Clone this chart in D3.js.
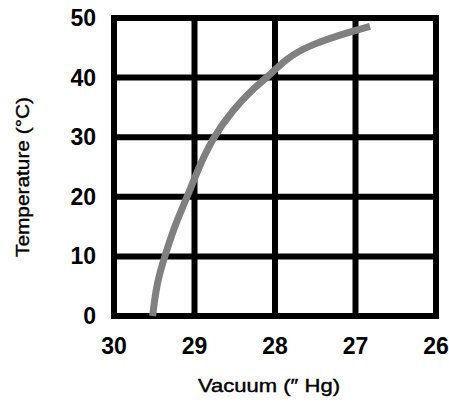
<!DOCTYPE html>
<html>
<head>
<meta charset="utf-8">
<script src="https://cdn.jsdelivr.net/npm/d3@7"></script>
<style>
  body { margin: 0; background: #fff; }
  text { font-family: "Liberation Sans", Arial, sans-serif; }
</style>
</head>
<body>
<script>
var width = 449, height = 403;

// vacuum in inches of mercury, temperature in deg C
var vacuum = [29.52, 29.47, 29.37, 29.24, 29.09, 28.96, 28.77, 28.52, 28.29, 28.1, 27.85, 27.57, 27.01, 26.82];
var temp   = [0, 5.5, 10, 15.4, 20, 24.5, 30, 34.6, 37.9, 40, 43.3, 45.5, 47.9, 48.6];
var xTicks = [30, 29, 28, 27, 26];
var yTicks = [0, 10, 20, 30, 40, 50];

var svg = d3.select("body").append("svg")
    .attr("width", width)
    .attr("height", height);

var x = d3.scaleLinear().domain([30, 26]).range([114, 436]);
var y = d3.scaleLinear().domain([0, 50]).range([316, 18]);

var g = svg.append("g");

// grid
g.selectAll("line.v").data(xTicks).enter().append("line")
    .attr("x1", d => x(d)).attr("x2", d => x(d))
    .attr("y1", y(0) + 3).attr("y2", y(50) - 3)
    .attr("stroke", "#000").attr("stroke-width", 6);

g.selectAll("line.h").data(yTicks).enter().append("line")
    .attr("y1", d => y(d)).attr("y2", d => y(d))
    .attr("x1", x(30) - 3).attr("x2", x(26) + 3)
    .attr("stroke", "#000").attr("stroke-width", 6);

// curve
var pts = vacuum.map((v, i) => [v, temp[i]]);
var line = d3.line()
    .x(d => x(d[0]))
    .y(d => y(d[1]))
    .curve(d3.curveBasis);

g.append("path")
    .datum(pts)
    .attr("d", line)
    .attr("fill", "none")
    .attr("stroke", "#808080")
    .attr("stroke-width", 7);

// tick labels
svg.selectAll("text.xt").data(xTicks).enter().append("text")
    .attr("x", d => x(d)).attr("y", 354)
    .attr("text-anchor", "middle")
    .style("font-size", "23px").style("font-weight", "bold")
    .text(d => d);

svg.selectAll("text.yt").data(yTicks).enter().append("text")
    .attr("x", 96).attr("y", d => y(d) + 8)
    .attr("text-anchor", "end")
    .style("font-size", "23px").style("font-weight", "bold")
    .text(d => d);

// axis titles
svg.append("text")
    .attr("x", 269).attr("y", 392)
    .attr("text-anchor", "middle")
    .attr("textLength", 142).attr("lengthAdjust", "spacingAndGlyphs")
    .style("font-size", "19px").attr("fill", "#000")
    .attr("stroke", "#000").attr("stroke-width", 0.4)
    .text("Vacuum (\u2033 Hg)");

svg.append("text")
    .attr("transform", "translate(29,177) rotate(-90)")
    .attr("text-anchor", "middle")
    .attr("textLength", 160).attr("lengthAdjust", "spacingAndGlyphs")
    .style("font-size", "19px").attr("fill", "#000")
    .attr("stroke", "#000").attr("stroke-width", 0.4)
    .text("Temperature (\u00b0C)");
</script>
</body>
</html>
